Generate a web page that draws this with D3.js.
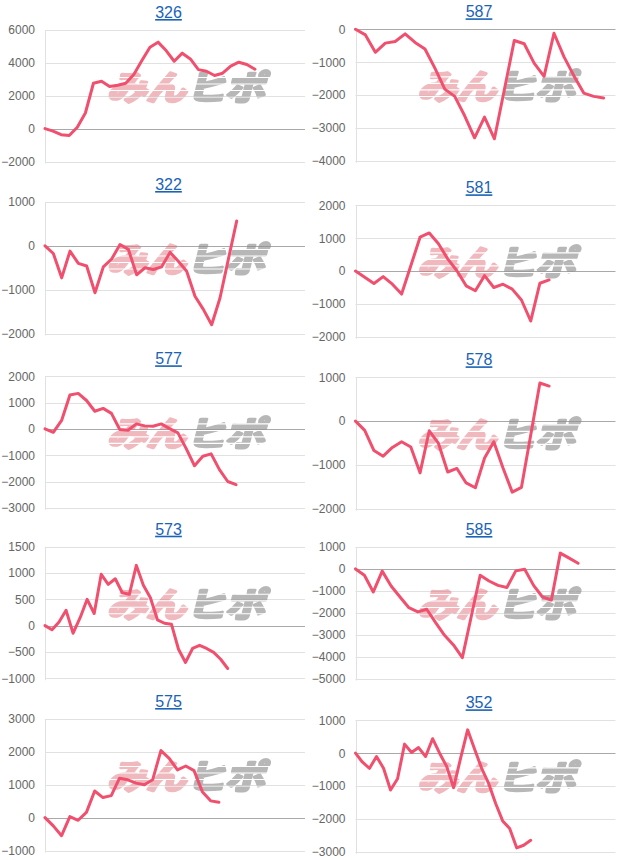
<!DOCTYPE html>
<html><head><meta charset="utf-8">
<script src="https://cdn.jsdelivr.net/npm/d3@7"></script>
<style>
html,body{margin:0;padding:0;background:#fff;}
svg{display:block;}
</style></head>
<body>
<svg id="chart" width="622" height="860"></svg>
<script>
// ---- data ----
const titles = ["326","587","322","581","577","578","573","585","575","352"];
const s326 = [0,-150,-370,-420,80,950,2760,2880,2560,2640,2760,3290,4140,4950,5260,4750,4100,4590,4240,3590,3490,3230,3370,3800,4040,3900,3610];
const s587 = [0,-170,-700,-420,-370,-140,-400,-600,-1180,-1820,-2040,-2630,-3300,-2670,-3330,-1840,-340,-440,-1030,-1430,-120,-830,-1410,-1940,-2040,-2090];
const s322 = [0,-175,-730,-120,-400,-460,-1070,-480,-300,30,-80,-660,-500,-540,-480,-150,-350,-580,-1150,-1450,-1800,-1190,-310,565];
const s581 = [0,-190,-380,-170,-400,-700,160,1030,1160,830,370,10,-450,-600,-140,-500,-400,-550,-880,-1520,-370,-270];
const s577 = [0,-130,320,1290,1350,1080,670,780,590,-25,-50,190,115,100,190,10,-150,-750,-1400,-1040,-950,-1550,-2000,-2120];
const s578 = [0,-210,-670,-800,-600,-470,-590,-1180,-220,-510,-1160,-1080,-1410,-1520,-840,-470,-1070,-1620,-1510,-320,870,800];
const s573 = [0,-80,70,290,-145,150,500,230,975,785,890,625,595,1145,765,530,110,45,25,-450,-700,-435,-375,-435,-510,-640,-815];
const s585 = [0,-290,-1050,-100,-780,-1280,-1770,-1960,-1840,-2450,-3030,-3470,-4050,-2170,-290,-550,-750,-850,-90,-15,-750,-1280,-1420,720,490,260];
const s575 = [0,-250,-550,30,-80,160,810,610,670,1200,1150,1050,1000,1150,2040,1800,1450,1570,1430,790,510,470];
const s352 = [0,-275,-460,-100,-460,-1120,-780,275,20,170,-100,440,0,-400,-1050,-150,710,120,-460,-920,-1530,-2060,-2290,-2880,-2800,-2650];
const seriesList = [s326,s587,s322,s581,s577,s578,s573,s585,s575,s352];
// x-domain extent (slots) per chart
const xSlots = [32.2,26.2,31.2,28.2,31.3,28.2,37,29.2,31.4,37.1];
// y tick labels per chart
const t326 = [-2000,0,2000,4000,6000];
const t587 = [-4000,-3000,-2000,-1000,0];
const t322 = [-2000,-1000,0,1000];
const t581 = [-2000,-1000,0,1000,2000];
const t577 = [-3000,-2000,-1000,0,1000,2000];
const t578 = [-2000,-1000,0,1000];
const t573 = [-1000,-500,0,500,1000,1500];
const t585 = [-5000,-4000,-3000,-2000,-1000,0,1000];
const t575 = [-1000,0,1000,2000,3000];
const t352 = [-3000,-2000,-1000,0,1000];
const tickList = [t326,t587,t322,t581,t577,t578,t573,t585,t575,t352];
const wmPink = "みん", wmGray = "ヒポ";

// ---- layout ----
const svg = d3.select("#chart");
const plotW = 260, plotH = 131.5;
const tops = [30,29.3,202,205.3,376.3,377.3,546.7,547,719,720.3];
const lefts = [45,355.5];
const font = "'Liberation Sans', Arial, sans-serif";

// stripe mask for watermark
const defs = svg.append("defs");
const mask = defs.append("mask").attr("id", "wmStripes")
  .attr("maskUnits", "userSpaceOnUse").attr("x", -30).attr("y", -50).attr("width", 260).attr("height", 70);
mask.append("rect").attr("x", -30).attr("y", -50).attr("width", 260).attr("height", 70).attr("fill", "#fff");
[-23, -16.5, -10, -3.5].forEach(yy => {
  mask.append("rect").attr("x", -30).attr("y", yy).attr("width", 260).attr("height", 1.1).attr("fill", "#000");
});

titles.forEach((title, i) => {
  const col = i % 2;
  const x0 = lefts[col], y0 = tops[i];
  const ticks = tickList[i];
  const data = seriesList[i];
  const x = d3.scaleLinear().domain([0, xSlots[i]]).range([x0, x0 + plotW]);
  const y = d3.scaleLinear().domain([d3.min(ticks), d3.max(ticks)]).range([y0 + plotH, y0]);
  const g = svg.append("g");

  // title
  g.append("text")
    .attr("x", col === 0 ? 168.5 : 479)
    .attr("y", y0 - 12)
    .attr("text-anchor", "middle")
    .attr("font-family", font)
    .attr("font-size", 16)
    .attr("fill", "#1a63b5")
    .style("text-decoration", "underline")
    .text(title);

  // gridlines
  g.selectAll("line.grid").data(ticks).enter().append("line")
    .attr("x1", x0).attr("x2", x0 + plotW)
    .attr("y1", d => Math.round(y(d)) + 0.5).attr("y2", d => Math.round(y(d)) + 0.5)
    .attr("stroke", d => d === 0 ? "#a9a9a9" : "#e1e1e1")
    .attr("stroke-width", 1);

  // vertical axis line
  g.append("line")
    .attr("x1", Math.round(x0) + 0.5).attr("x2", Math.round(x0) + 0.5)
    .attr("y1", y0).attr("y2", y0 + plotH + 2)
    .attr("stroke", "#e1e1e1");

  // y axis labels
  const axis = d3.axisLeft(y).tickValues(ticks).tickSize(0).tickPadding(10).tickFormat(d3.format("d"));
  const ag = g.append("g").attr("transform", `translate(${x0},0)`).call(axis);
  ag.select(".domain").remove();
  ag.selectAll("text").attr("font-family", font).attr("font-size", 12).attr("fill", "#666");

  // watermark
  const wm = g.append("g").attr("transform", `translate(${x0 + 62},${y0 + 70}) skewX(-14) scale(1.18,1)`)
    .attr("mask", "url(#wmStripes)");
  wm.append("g").attr("opacity", 0.45).append("text")
    .attr("x", 0).attr("y", 0)
    .attr("font-family", "'Noto Sans CJK JP', sans-serif")
    .attr("font-weight", 700)
    .attr("font-size", 34)
    .attr("letter-spacing", -1)
    .attr("fill", "#dc6470").attr("stroke", "#dc6470")
    .attr("stroke-width", 3).attr("stroke-linejoin", "round")
    .text(wmPink);
  wm.append("g").attr("opacity", 0.62).append("text")
    .attr("x", 67).attr("y", 0)
    .attr("font-family", "'Noto Sans CJK JP', sans-serif")
    .attr("font-weight", 700)
    .attr("font-size", 34)
    .attr("letter-spacing", -1)
    .attr("fill", "#8c8c8c").attr("stroke", "#8c8c8c")
    .attr("stroke-width", 3).attr("stroke-linejoin", "round")
    .text(wmGray);

  // line
  const line = d3.line().x((d, k) => x(k)).y(d => y(d));
  g.append("path")
    .datum(data)
    .attr("d", line)
    .attr("fill", "none")
    .attr("stroke", "#f0506e")
    .attr("stroke-width", 3)
    .attr("stroke-linejoin", "round")
    .attr("stroke-linecap", "round");
});
</script>
</body></html>
